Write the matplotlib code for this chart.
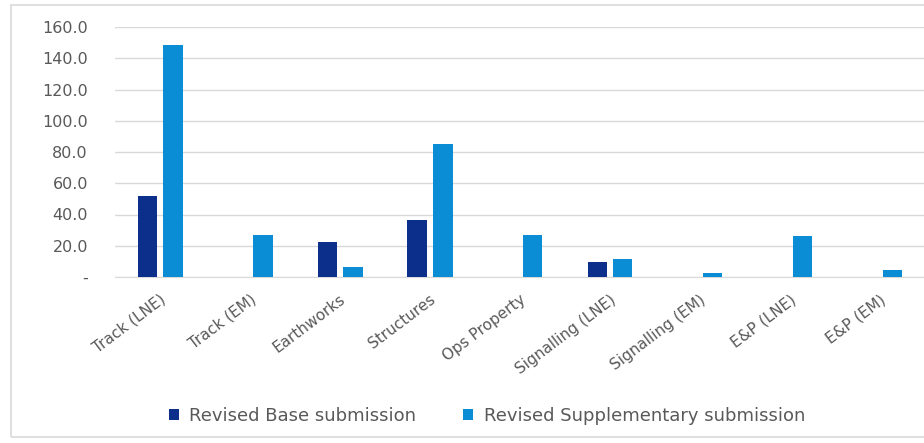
import matplotlib
matplotlib.use("Agg")
import matplotlib.pyplot as plt
import matplotlib.transforms as mtransforms
from matplotlib.patches import Rectangle
import numpy as np

plt.rcParams['font.family'] = ['DejaVu Sans']

categories = ["Track (LNE)", "Track (EM)", "Earthworks", "Structures", "Ops Property",
              "Signalling (LNE)", "Signalling (EM)", "E&P (LNE)", "E&P (EM)"]
base_submission = [51.6, 0.0, 22.3, 36.4, 0.0, 9.7, 0.0, 0.0, 0.0]
supplementary_submission = [148.6, 26.9, 6.7, 84.9, 26.8, 11.4, 2.8, 26.0, 4.5]
y_ticks = [0, 20, 40, 60, 80, 100, 120, 140, 160]
y_tick_labels = ["-", "20.0", "40.0", "60.0", "80.0", "100.0", "120.0", "140.0", "160.0"]

dark_blue = "#0B2F8A"
light_blue = "#0B8DD6"
text_grey = "#595959"
grid_grey = "#D9D9D9"

W, H = 924, 443
fig = plt.figure(figsize=(W / 100, H / 100), dpi=100)
ax = fig.add_axes([115 / W, 1 - 277 / H, 810 / W, 250 / H])

x = np.arange(len(categories))
bar_w = 0.222
off = 0.139
ax.bar(x - off, base_submission, width=bar_w, color=dark_blue, label="Revised Base submission", zorder=3)
ax.bar(x + off, supplementary_submission, width=bar_w, color=light_blue,
       label="Revised Supplementary submission", zorder=3)

ax.set_xlim(-0.5, len(categories) - 0.5)
ax.set_ylim(0, 160)
ax.set_yticks(y_ticks)
ax.set_yticklabels(y_tick_labels, color=text_grey, fontsize=11.5)
ax.tick_params(axis='y', length=0, pad=19.5)
ax.grid(axis='y', color=grid_grey, linewidth=1, zorder=0)
for s in ["top", "right", "left"]:
    ax.spines[s].set_visible(False)
ax.spines["bottom"].set_color(grid_grey)
ax.spines["bottom"].set_zorder(1)

ax.set_xticks(x)
ax.set_xticklabels(categories, rotation=37, ha='right', va='center', rotation_mode='anchor',
                   color=text_grey, fontsize=11)
ax.tick_params(axis='x', length=0, pad=15)
shift = mtransforms.ScaledTranslation(4 / 100, 0, fig.dpi_scale_trans)
for lbl in ax.get_xticklabels():
    lbl.set_transform(lbl.get_transform() + shift)

handles, labels = ax.get_legend_handles_labels()
leg = fig.legend(handles, labels, loc='center', bbox_to_anchor=(487 / W, 1 - 416 / H), ncol=2,
                 frameon=False, fontsize=13, handlelength=0.55, handleheight=0.55,
                 handletextpad=0.6, columnspacing=2.6, labelcolor=text_grey)

fig.patches.append(Rectangle((11 / W, 1 - 437 / H), (W + 5 - 11) / W, (437 - 5) / H,
                             transform=fig.transFigure, fill=False, edgecolor=grid_grey,
                             linewidth=1.2))

fig.savefig("out.png", dpi=100, facecolor="white")
